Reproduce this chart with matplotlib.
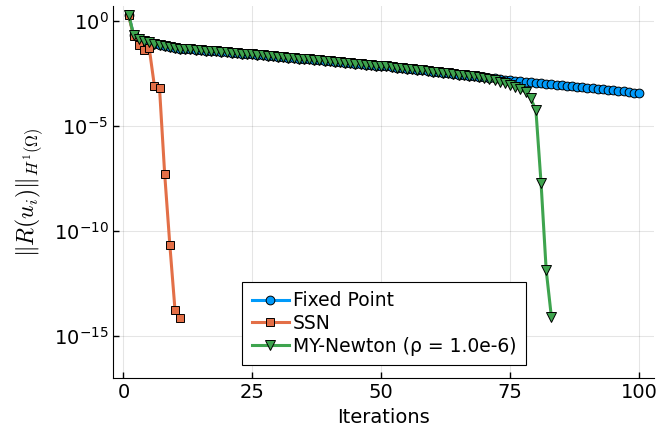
import numpy as np
import matplotlib.pyplot as plt

# residual norms (one value per iteration)
fp_iter = np.arange(1, 101)
fp_res = [
    2.0e0, 2.0e-1, 1.38e-1, 1.12e-1, 9.3e-2, 7.9e-2, 6.9e-2, 6.2e-2, 5.5e-2, 5.0e-2,
    4.8e-2, 4.6e-2, 4.4e-2, 4.2e-2, 4.0e-2, 3.8e-2, 3.6e-2, 3.5e-2, 3.3e-2, 3.2e-2,
    3.0e-2, 2.9e-2, 2.75e-2, 2.6e-2, 2.5e-2, 2.39e-2, 2.27e-2, 2.16e-2, 2.05e-2, 1.95e-2,
    1.85e-2, 1.76e-2, 1.67e-2, 1.59e-2, 1.51e-2, 1.44e-2, 1.37e-2, 1.30e-2, 1.24e-2, 1.17e-2,
    1.12e-2, 1.06e-2, 1.01e-2, 9.6e-3, 9.1e-3, 8.7e-3, 8.2e-3, 7.8e-3, 7.4e-3, 7.1e-3,
    6.7e-3, 6.25e-3, 5.86e-3, 5.5e-3, 5.2e-3, 4.9e-3, 4.6e-3, 4.3e-3, 4.0e-3, 3.8e-3,
    3.55e-3, 3.34e-3, 3.13e-3, 2.94e-3, 2.77e-3, 2.6e-3, 2.44e-3, 2.29e-3, 2.15e-3, 2.02e-3,
    1.9e-3, 1.79e-3, 1.68e-3, 1.57e-3, 1.48e-3, 1.40e-3, 1.32e-3, 1.25e-3, 1.18e-3, 1.12e-3,
    1.06e-3, 1.0e-3, 9.4e-4, 8.9e-4, 8.4e-4, 8.0e-4, 7.5e-4, 7.1e-4, 6.7e-4, 6.4e-4,
    6.0e-4, 5.7e-4, 5.4e-4, 5.1e-4, 4.8e-4, 4.55e-4, 4.3e-4, 4.06e-4, 3.84e-4, 3.63e-4,
]

ssn_iter = np.arange(1, 12)
ssn_res = [1.8e0, 1.8e-1, 6.8e-2, 4.2e-2, 5.0e-2, 8.0e-4, 6.0e-4, 5.0e-8, 2.1e-11, 1.7e-14, 7.0e-15]

myn_iter = np.arange(1, 84)
myn_res = fp_res[:69] + [
    1.9e-3, 1.7e-3, 1.48e-3, 1.26e-3, 1.05e-3, 8.7e-4, 7.1e-4, 5.5e-4, 4.0e-4, 2.0e-4,
    5.6e-5, 1.9e-8, 1.3e-12, 8.0e-15,
]

labels = ["Fixed Point", "SSN", "MY-Newton (ρ = 1.0e-6)"]
colors = ["#009AFA", "#E36F47", "#3EA44E"]

plt.rcParams['font.family'] = ['DejaVu Sans']
plt.rcParams['font.size'] = 14

fig = plt.figure(figsize=(6.59, 4.29), dpi=100)
ax = fig.add_axes([0.1719, 0.1182, 0.821, 0.868])

ax.plot(fp_iter, fp_res, color=colors[0], lw=2.2, marker="o", ms=6.3,
        mec="black", mew=0.7, label=labels[0])
ax.plot(ssn_iter, ssn_res, color=colors[1], lw=2.2, marker="s", ms=6.3,
        mec="black", mew=0.7, label=labels[1])
ax.plot(myn_iter, myn_res, color=colors[2], lw=2.2, marker="v", ms=7.8,
        mec="black", mew=0.7, label=labels[2])

ax.set_yscale("log")
ax.set_xlim(-1.97, 102.97)
ax.set_ylim(10 ** -17.03, 10 ** 0.71)
ax.set_xticks([0, 25, 50, 75, 100])
ax.set_yticks([1e0, 1e-5, 1e-10, 1e-15])
ax.minorticks_off()
ax.tick_params(direction="in", length=4, width=1, labelsize=14)

ax.grid(True, color="black", alpha=0.1, lw=0.8)
for s in ["top", "right"]:
    ax.spines[s].set_visible(False)

ax.set_xlabel("Iterations", fontsize=14)
ax.set_ylabel(r"$\Vert R(u_i)\Vert_{H^1(\Omega)}$", fontsize=17,
              math_fontfamily="cm", labelpad=6)

leg = ax.legend(loc="lower left", bbox_to_anchor=(0.3677, 0.1492),
                bbox_transform=fig.transFigure, fontsize=13.5, frameon=True,
                fancybox=False, edgecolor="black", framealpha=1,
                handlelength=2.0, handletextpad=0.2, labelspacing=0.2,
                borderpad=0.5, numpoints=1, borderaxespad=0)
leg.get_frame().set_linewidth(0.8)

fig.savefig("out.png", dpi=100)
